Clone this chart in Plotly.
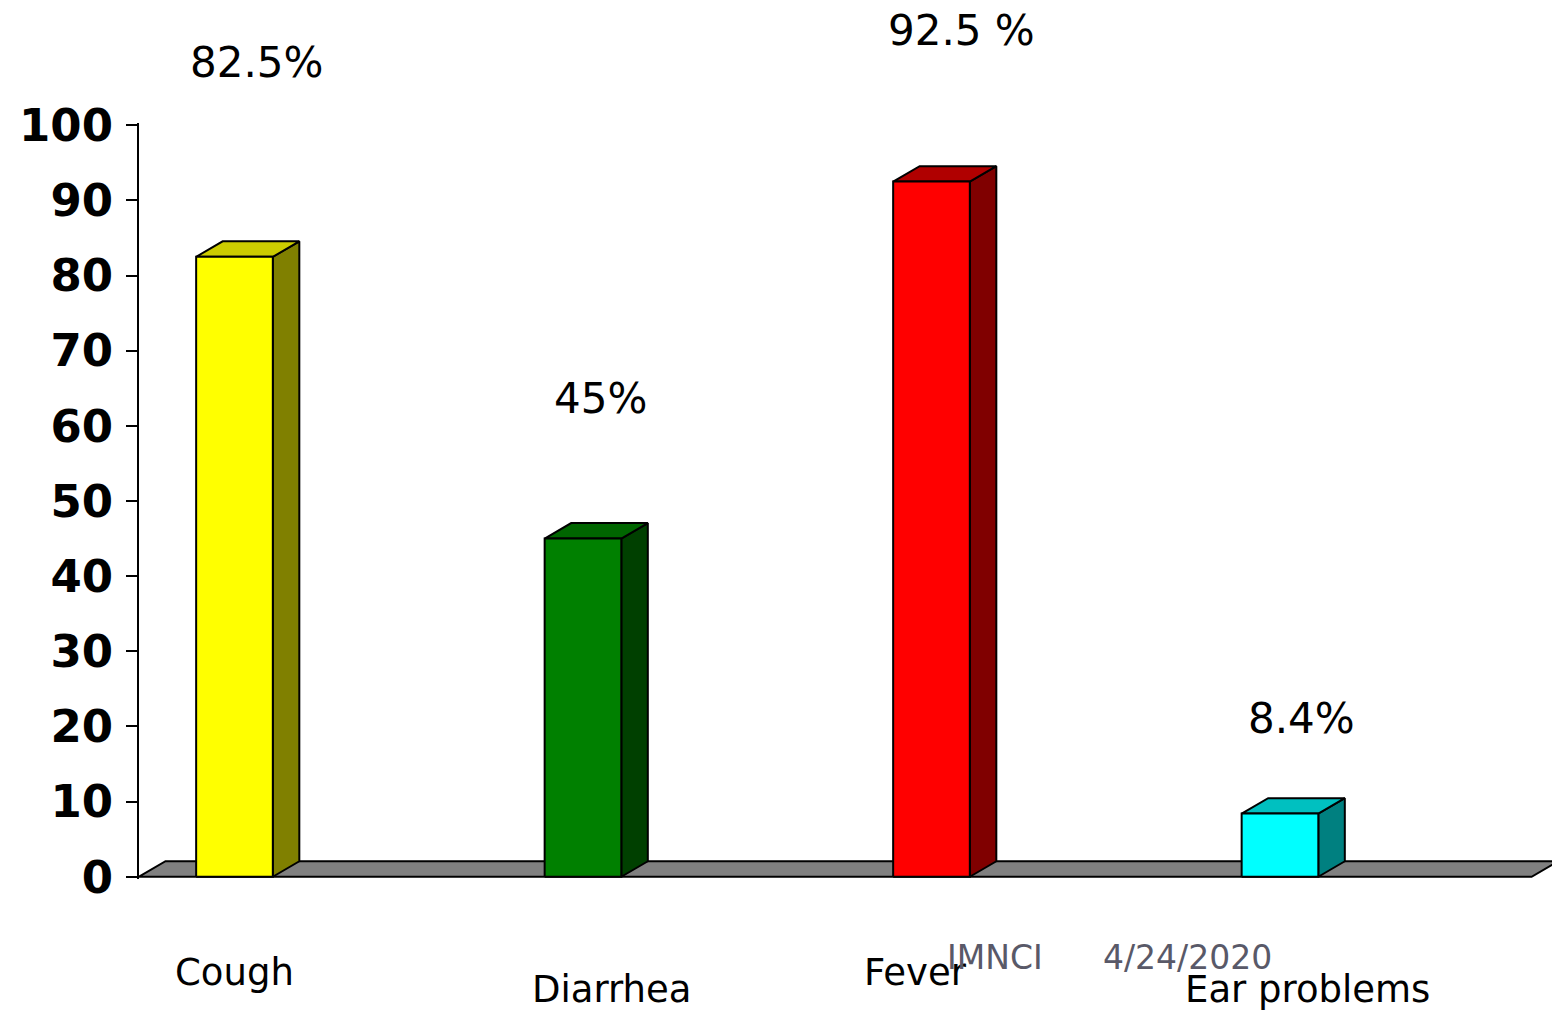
import numpy as np
import plotly.graph_objects as go

# chart data
categories = ["Cough", "Diarrhea", "Fever", "Ear problems"]
values = [82.5, 45, 92.5, 8.4]
value_labels = ["82.5%", "45%", "92.5 %", "8.4%"]
y_ticks = [0, 10, 20, 30, 40, 50, 60, 70, 80, 90, 100]
footer_texts = ["IMNCI", "4/24/2020"]

# colours for front / top / side of each bar
front_colors = ["#FFFF00", "#008000", "#FF0000", "#00FFFF"]
top_colors = ["#CCCC00", "#006600", "#B00000", "#00C0C0"]
side_colors = ["#808000", "#004000", "#800000", "#008080"]

# hand placed text boxes from the slide (data units)
label_x_shift = [0.062, 0.05, 0.085, 0.062]
label_y = [108.4, 63.7, 112.6, 21.1]
cat_label_x = [0.0, 1.083, 1.955, 3.08]
cat_label_y = [-12.8, -15.0, -12.8, -15.0]
# footer boxes, in screen pixels
footer_px = [(995, 957), (1187, 957)]

Y_MIN, Y_MAX = -0.3, 100.3
X_MIN, X_MAX = -0.274, 3.8035
HALF_W = 0.11
DX = 26.5 / 348.5
DY = 2.06
FLOOR_RIGHT = 3.722

LABEL_FONT = "DejaVu Sans"

# page body has an 8px margin, so the figure is drawn 8px in from the corner
OFF = 8
W, H = 1560 - OFF, 1013 - OFF
PLOT_L, PLOT_T, PLOT_B = 139, 123, 879   # in screen pixels
M_L, M_T, M_B, M_R = PLOT_L - OFF, PLOT_T - OFF, H - (PLOT_B - OFF), 0


def ypaper(v):
    return (v - Y_MIN) / (Y_MAX - Y_MIN)


def face(xs, ys, color):
    return go.Scatter(
        x=xs, y=ys, mode="lines", fill="toself", fillcolor=color,
        line=dict(color="black", width=2), hoverinfo="skip", showlegend=False
    )


fig = go.Figure()

# grey floor
fig.add_trace(face(
    [X_MIN, FLOOR_RIGHT, FLOOR_RIGHT + DX, X_MIN + DX, X_MIN],
    [0, 0, DY, DY, 0], "#808080"
))

# 3d bars
for i, v in enumerate(values):
    x0, x1 = i - HALF_W, i + HALF_W
    fig.add_trace(face([x1, x1 + DX, x1 + DX, x1, x1], [0, DY, v + DY, v, 0], side_colors[i]))
    fig.add_trace(face([x0, x1, x1 + DX, x0 + DX, x0], [v, v, v + DY, v + DY, v], top_colors[i]))
    fig.add_trace(face([x0, x1, x1, x0, x0], [0, 0, v, v, 0], front_colors[i]))

annotations = []
for i, lab in enumerate(value_labels):
    annotations.append(dict(
        x=i + label_x_shift[i], y=ypaper(label_y[i]), text=lab, showarrow=False,
        xref="x", yref="paper", xanchor="center", yanchor="middle",
        font=dict(family=LABEL_FONT, size=42, color="black")
    ))
for i, cat in enumerate(categories):
    annotations.append(dict(
        x=cat_label_x[i], y=ypaper(cat_label_y[i]), text=cat, showarrow=False,
        xref="x", yref="paper", xanchor="center", yanchor="middle",
        font=dict(family=LABEL_FONT, size=37, color="black")
    ))

# slide footer
for txt, (px, py) in zip(footer_texts, footer_px):
    annotations.append(dict(
        x=(px - PLOT_L) / (W - M_L - M_R), y=(PLOT_B - py) / (PLOT_B - PLOT_T),
        xref="paper", yref="paper", text=txt, showarrow=False,
        xanchor="center", yanchor="middle",
        font=dict(family=LABEL_FONT, size=33, color="#595968")
    ))

fig.update_layout(
    width=W, height=H,
    margin=dict(l=M_L, r=M_R, t=M_T, b=M_B),
    plot_bgcolor="white", paper_bgcolor="white",
    annotations=annotations,
    xaxis=dict(range=[X_MIN, X_MAX], visible=False, fixedrange=True),
    yaxis=dict(
        range=[Y_MIN, Y_MAX], tickvals=y_ticks, ticks="outside", ticklen=11,
        tickwidth=2, tickcolor="black", showline=True, linecolor="black",
        linewidth=2, showgrid=False, zeroline=False, ticklabelstandoff=4,
        tickfont=dict(family="DejaVu Sans", size=45, color="black", weight="bold"),
    ),
)

fig.write_html("out.html")
